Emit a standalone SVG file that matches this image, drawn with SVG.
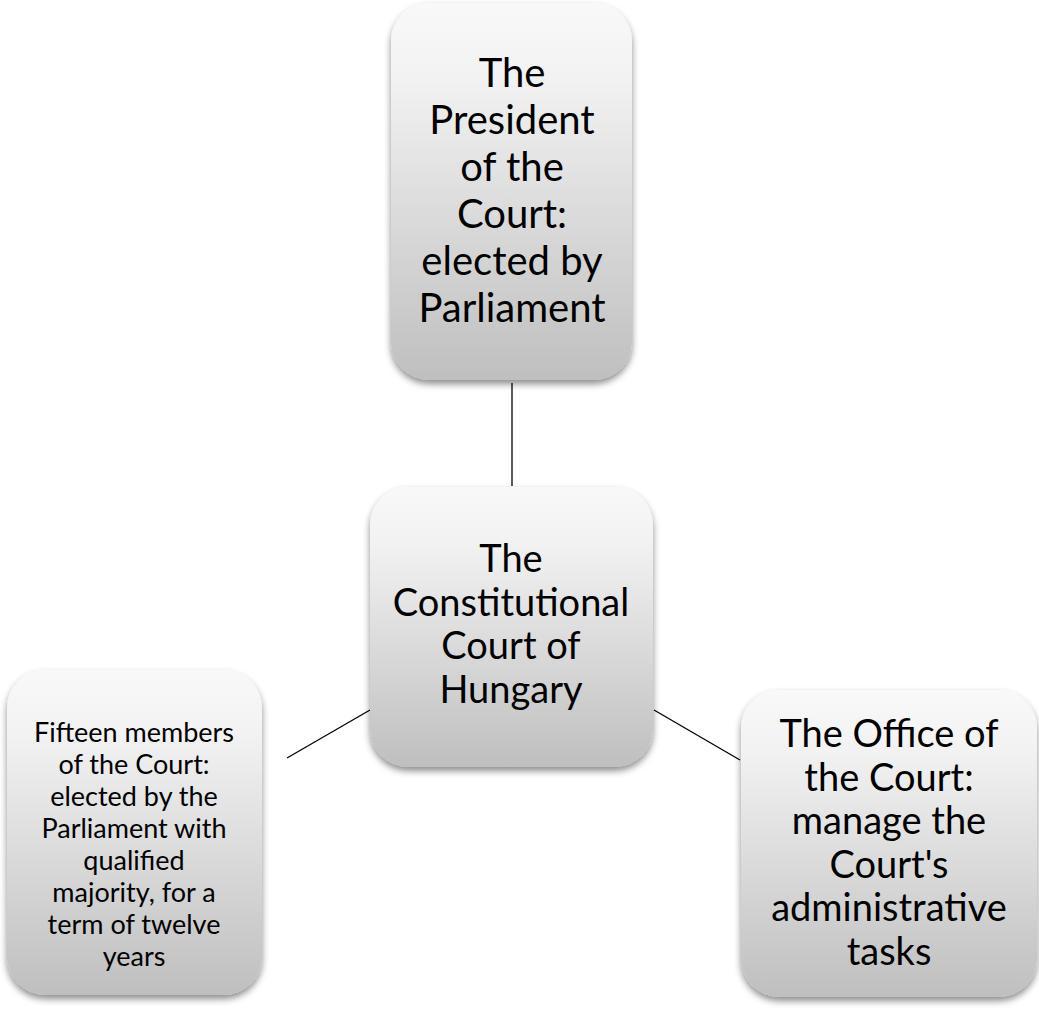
<svg xmlns="http://www.w3.org/2000/svg" width="1039" height="1028" viewBox="0 0 1039 1028">
<style>
.box{fill:url(#g);filter:url(#sh);}
.t{font-family:Lato,"Open Sans","Liberation Sans",sans-serif;fill:#000;text-anchor:middle;}
.top{font-size:40px;}
.big{font-size:38px;}
.small{font-size:27px;}
.c{stroke:#000;stroke-width:1.3;fill:none;}
</style>
<defs>
<linearGradient id="g" x1="0" y1="0" x2="0" y2="1">
<stop offset="0" stop-color="#f9f9f9"/>
<stop offset="0.2" stop-color="#f2f2f2"/>
<stop offset="1" stop-color="#bfbfbf"/>
</linearGradient>
<filter id="sh" x="-10%" y="-10%" width="120%" height="125%">
<feDropShadow dx="0" dy="4" stdDeviation="3.5" flood-color="#000" flood-opacity="0.45"/>
</filter>
</defs>
<g id="connectors">
<line class="c" x1="512" y1="383" x2="512" y2="486"/>
<line class="c" x1="287" y1="758" x2="370" y2="710"/>
<line class="c" x1="654" y1="710" x2="740" y2="760"/>
</g>
<g id="president">
<rect class="box" x="391" y="3" width="241" height="377" rx="38"/>
<text class="t top"><tspan x="512" y="87">The</tspan><tspan x="512" y="134">President</tspan><tspan x="512" y="181">of the</tspan><tspan x="512" y="228">Court:</tspan><tspan x="512" y="275">elected by</tspan><tspan x="512" y="322">Parliament</tspan></text>
</g>
<g id="court">
<rect class="box" x="370" y="487" width="283" height="280" rx="38"/>
<text class="t big"><tspan x="511" y="572">The</tspan><tspan x="511" y="615.5">Constitutional</tspan><tspan x="511" y="659">Court of</tspan><tspan x="511" y="702.5">Hungary</tspan></text>
</g>
<g id="members">
<rect class="box" x="7" y="670" width="255" height="325" rx="38"/>
<text class="t small"><tspan x="134" y="742">Fifteen members</tspan><tspan x="134" y="774">of the Court:</tspan><tspan x="134" y="806">elected by the</tspan><tspan x="134" y="838">Parliament with</tspan><tspan x="134" y="870">qualified</tspan><tspan x="134" y="902">majority, for a</tspan><tspan x="134" y="934">term of twelve</tspan><tspan x="134" y="966">years</tspan></text>
</g>
<g id="office">
<rect class="box" x="741" y="690" width="296" height="307" rx="38"/>
<text class="t big"><tspan x="889" y="747">The Office of</tspan><tspan x="889" y="790.5">the Court:</tspan><tspan x="889" y="834">manage the</tspan><tspan x="889" y="877.5">Court's</tspan><tspan x="889" y="921">administrative</tspan><tspan x="889" y="964.5">tasks</tspan></text>
</g>
</svg>
